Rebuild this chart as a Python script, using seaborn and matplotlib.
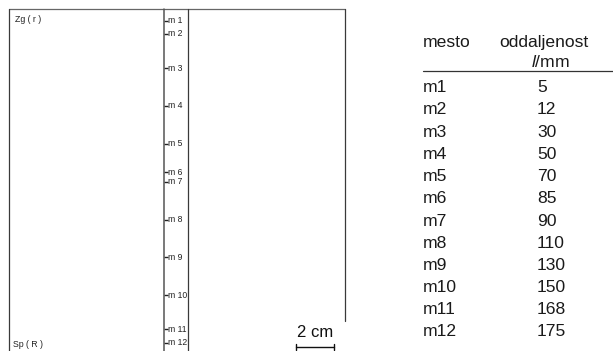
import matplotlib
matplotlib.use("Agg")
import matplotlib.pyplot as plt
import seaborn as sns
import pandas as pd

# merilna mesta in oddaljenost od zgornjega roba (mm)
mesta = ["m1", "m2", "m3", "m4", "m5", "m6", "m7", "m8", "m9", "m10", "m11", "m12"]
oddaljenost = [5, 12, 30, 50, 70, 85, 90, 110, 130, 150, 168, 175]
oznake_skica = ["m 1", "m 2", "m 3", "m 4", "m 5", "m 6", "m 7", "m 8", "m 9", "m 10", "m 11", "m 12"]
skala_mm = 20
skala_napis = "2 cm"
zgoraj_napis = "Zg ( r )"
spodaj_napis = "Sp ( R )"
glava = ["mesto", "oddaljenost"]
enota = r"$\mathit{l}$/mm"

sns.set_theme(style="white")
plt.rcParams["font.family"] = ["Liberation Sans", "DejaVu Sans"]
plt.rcParams["mathtext.fontset"] = "custom"
plt.rcParams["mathtext.it"] = "Liberation Sans:italic"
plt.rcParams["mathtext.rm"] = "Liberation Sans"

df = pd.DataFrame({"mesto": mesta, "mm": oddaljenost, "oznaka": oznake_skica})

fig = plt.figure(figsize=(6.13, 3.51), dpi=100)

# skica - koordinate v mm (1.894 px/mm)
ax = fig.add_axes([0, 0, 360 / 613, 1])
ax.set_xlim(0, 190.07)
ax.set_ylim(179.4, -5.91)
ax.axis("off")

vrh = -1.3
crta = dict(color="#3a3a3a", lw=0.9)
ax.plot([4.6, 182.4], [vrh, vrh], color="#666666", lw=0.9)
ax.plot([4.6, 4.6], [vrh, 179.4], **crta)
ax.plot([86.6, 86.6], [vrh, 179.4], color="#555555", lw=1.1)
ax.plot([99.5, 99.5], [vrh, 179.4], **crta)
ax.plot([182.4, 182.4], [vrh, 163.6], **crta)

# oznake merilnih mest
df["x"] = 87.5
sns.scatterplot(data=df, x="x", y="mm", marker="_", s=9, color="#222222",
                linewidth=1.0, ax=ax, legend=False)
ax.set_xlim(0, 190.07)
ax.set_ylim(179.4, -5.91)
for _, r in df.iterrows():
    ax.text(88.6, r["mm"], r["oznaka"], fontsize=6.2, va="center", ha="left", color="#222222")

ax.text(7.9, 5.7, zgoraj_napis, fontsize=6.3, va="baseline", ha="left", color="#222222")
ax.text(7.0, 177.3, spodaj_napis, fontsize=6.3, va="baseline", ha="left", color="#222222")

# merilo
x0 = 156.3
ax.plot([x0, x0 + skala_mm], [177.3, 177.3], color="#111111", lw=1.0)
ax.plot([x0, x0], [175.7, 178.9], color="#111111", lw=1.0)
ax.plot([x0 + skala_mm, x0 + skala_mm], [175.7, 178.9], color="#111111", lw=1.0)
ax.text(x0 + skala_mm / 2, 171.9, skala_napis, fontsize=12, ha="center", va="baseline", color="#111111")

# tabela
tb = fig.add_axes([0, 0, 1, 1])
tb.set_xlim(0, 613)
tb.set_ylim(351, 0)
tb.axis("off")
tb.patch.set_alpha(0)

fs = 12.6
tb.text(423, 46.7, glava[0], fontsize=fs, va="baseline", ha="left", color="#1a1a1a")
tb.text(499, 46.7, glava[1], fontsize=fs, va="baseline", ha="left", color="#1a1a1a")
tb.text(531, 66.7, enota, fontsize=fs, va="baseline", ha="left", color="#1a1a1a")
tb.plot([423, 613], [71, 71], color="#333333", lw=0.9)
for i, (m, v) in enumerate(zip(mesta, oddaljenost)):
    y = 92.3 + i * 22.2
    tb.text(423, y, m, fontsize=fs, va="baseline", ha="left", color="#1a1a1a")
    tb.text(537, y, str(v), fontsize=fs, va="baseline", ha="left", color="#1a1a1a")

fig.savefig("out.png", dpi=100)
